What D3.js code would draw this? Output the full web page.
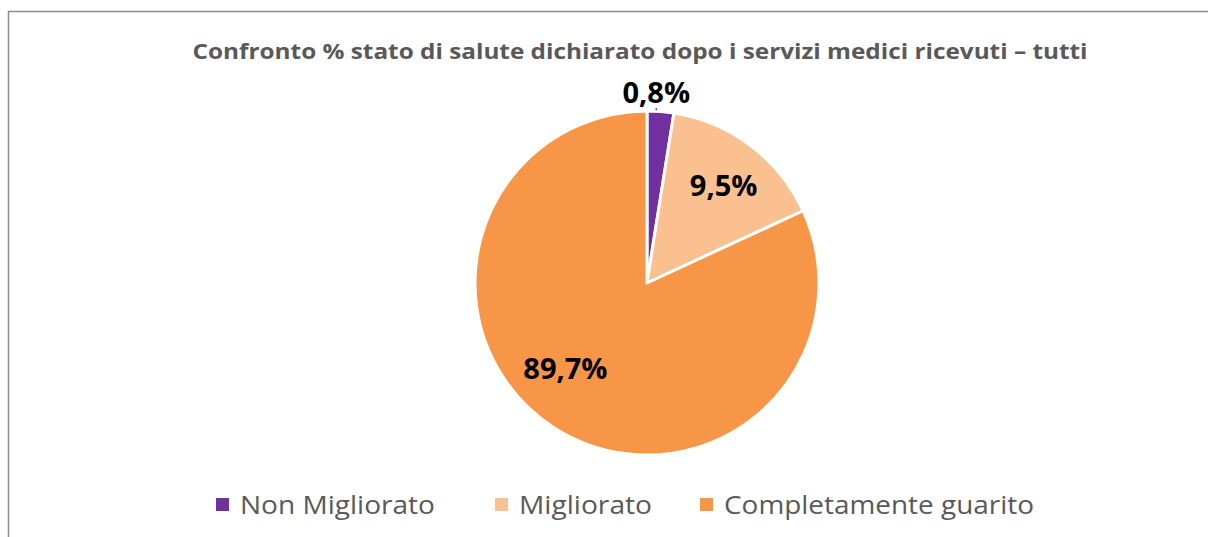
<!DOCTYPE html>
<html lang="it">
<head>
<meta charset="UTF-8">
<title>Confronto stato di salute</title>
<script src="https://d3js.org/d3.v7.min.js"></script>
<style>
    body { margin: 0; background: #fff; }
    text { font-family: "Open Sans", "Noto Sans", sans-serif; }
    .title { font-size: 22px; font-weight: bold; fill: #595959; text-anchor: middle; }
    .label { font-size: 29px; font-weight: bold; fill: #000; text-anchor: middle; }
    .legend text { font-size: 25px; fill: #595959; }
</style>
</head>
<body>
<svg id="chart" width="1208" height="537"></svg>
<script>
// Data
var categories = ["Non Migliorato", "Migliorato", "Completamente guarito"];
var sliceValues = [2.5, 15.6, 81.9];          // slice sizes as drawn
var labelTexts = ["0,8%", "9,5%", "89,7%"];   // printed data labels
var colors = ["#7030A0", "#FAC090", "#F79646"];

var svg = d3.select("#chart");

// chart frame
svg.append("rect")
    .attr("x", 8.5).attr("y", 11.5)
    .attr("width", 1220).attr("height", 560)
    .attr("fill", "none")
    .attr("stroke", "#8c8c8c")
    .attr("stroke-width", 1.5);

// title
svg.append("text")
    .attr("class", "title")
    .attr("x", 640)
    .attr("y", 59)
    .attr("textLength", 895)
    .attr("lengthAdjust", "spacingAndGlyphs")
    .text("Confronto % stato di salute dichiarato dopo i servizi medici ricevuti – tutti");

// pie
var cx = 647, cy = 283, r = 172;
var pie = d3.pie().sort(null).value(function(d) { return d; });
var arcs = pie(sliceValues);
var arc = d3.arc().innerRadius(0).outerRadius(r);

var g = svg.append("g").attr("transform", "translate(" + cx + "," + cy + ")");

g.selectAll("path")
    .data(arcs)
    .enter().append("path")
    .attr("d", arc)
    .attr("fill", function(d, i) { return colors[i]; })
    .attr("stroke", "#fff")
    .attr("stroke-width", 3)
    .attr("stroke-linejoin", "round");

// label placement (excel best fit): small slice outside, others inside
function labelPos(d, i) {
    var a = (d.startAngle + d.endAngle) / 2;
    var rr = r * 0.72;
    if (i === 0) { rr = r + 18; a = a - 0.03; }
    if (i === 1) { a = a + 0.02; }
    if (i === 2) { a = a + 0.19; rr = r * 0.69; }
    return [Math.sin(a) * rr, -Math.cos(a) * rr];
}

// tiny leader for the outside label
var p0 = labelPos(arcs[0], 0);
g.append("line")
    .attr("x1", p0[0]).attr("y1", p0[1] + 15)
    .attr("x2", p0[0]).attr("y2", p0[1] + 17)
    .attr("stroke", "#000").attr("stroke-width", 1);

g.selectAll("text.label")
    .data(arcs)
    .enter().append("text")
    .attr("class", "label")
    .attr("x", function(d, i) { return labelPos(d, i)[0]; })
    .attr("y", function(d, i) { return labelPos(d, i)[1]; })
    .attr("dy", "0.34em")
    .text(function(d, i) { return labelTexts[i]; });

// legend
var legendX = [216, 495, 700];
var legendW = [195, 133, 310];
var legend = svg.append("g").attr("class", "legend");
var items = legend.selectAll("g")
    .data(categories)
    .enter().append("g")
    .attr("transform", function(d, i) { return "translate(" + legendX[i] + ",505)"; });

items.append("rect")
    .attr("x", 0).attr("y", -7)
    .attr("width", 13).attr("height", 13)
    .attr("fill", function(d, i) { return colors[i]; });

items.append("text")
    .attr("x", 24)
    .attr("y", 0)
    .attr("dy", "0.35em")
    .attr("textLength", function(d, i) { return legendW[i]; })
    .attr("lengthAdjust", "spacingAndGlyphs")
    .text(function(d) { return d; });
</script>
</body>
</html>
